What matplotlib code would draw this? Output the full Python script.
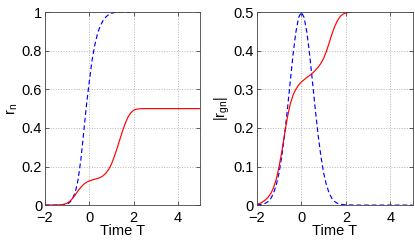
import numpy as np
import matplotlib
matplotlib.use('Agg')
import matplotlib.pyplot as plt
from matplotlib.ticker import FuncFormatter

plt.rcParams['font.family'] = ['Liberation Sans', 'DejaVu Sans']
plt.rcParams['mathtext.default'] = 'regular'

# left panel: r_n
t_left_red = [-2, -1.5, -1.25, -1.125, -1.0, -0.875, -0.75, -0.625, -0.5, -0.375,
              -0.25, -0.125, 0, 0.125, 0.25, 0.375, 0.5, 0.625, 0.75, 0.875,
              1.0, 1.125, 1.25, 1.375, 1.5, 1.625, 1.75, 1.875, 2.0, 2.125,
              2.25, 2.5, 5]
r_left_red = [0, 0.0005, 0.002, 0.005, 0.01, 0.02, 0.035, 0.054, 0.075, 0.093,
              0.108, 0.118, 0.125, 0.13, 0.134, 0.138, 0.143, 0.152, 0.165, 0.185,
              0.212, 0.25, 0.292, 0.338, 0.383, 0.424, 0.456, 0.478, 0.491, 0.497,
              0.499, 0.5, 0.5]

t_left_blue = [-2, -1.25, -1.0, -0.875, -0.75, -0.625, -0.5, -0.375, -0.25, -0.125,
               0, 0.125, 0.25, 0.375, 0.5, 0.625, 0.75, 0.875, 1.0, 1.125, 1.25, 2.0]
r_left_blue = [0, 0, 0.005, 0.015, 0.035, 0.07, 0.135, 0.24, 0.38, 0.52,
               0.64, 0.75, 0.83, 0.89, 0.93, 0.957, 0.975, 0.987, 0.994, 0.998, 1.0, 1.0]

# right panel: |r_gn|
t_right_red = [-2, -1.875, -1.75, -1.625, -1.5, -1.375, -1.25, -1.125, -1.0, -0.875,
               -0.75, -0.625, -0.5, -0.375, -0.25, -0.125, 0, 0.125, 0.25, 0.375,
               0.5, 0.625, 0.75, 0.875, 1.0, 1.125, 1.25, 1.375, 1.5, 1.625,
               1.75, 1.875, 2.0, 2.25]
r_right_red = [0.002, 0.004, 0.008, 0.013, 0.02, 0.03, 0.045, 0.068, 0.1, 0.14,
               0.185, 0.228, 0.262, 0.285, 0.3, 0.311, 0.319, 0.325, 0.331, 0.336,
               0.342, 0.349, 0.357, 0.367, 0.38, 0.398, 0.42, 0.443, 0.463, 0.478,
               0.489, 0.495, 0.498, 0.5]

t_right_blue = [-2, -1.75, -1.625, -1.5, -1.375, -1.25, -1.125, -1.0, -0.875, -0.75,
                -0.625, -0.5, -0.375, -0.25, -0.125, 0, 0.125, 0.25, 0.375, 0.5,
                0.625, 0.75, 0.875, 1.0, 1.125, 1.25, 1.375, 1.5, 1.625, 1.75,
                2.0, 2.5, 5]
r_right_blue = [0.0005, 0.002, 0.0045, 0.009, 0.017, 0.031, 0.053, 0.084, 0.128, 0.184,
                0.249, 0.320, 0.389, 0.447, 0.486, 0.5, 0.486, 0.447, 0.389, 0.320,
                0.249, 0.184, 0.128, 0.084, 0.053, 0.031, 0.017, 0.009, 0.0045, 0.002,
                0.0005, 0, 0]

xticks = [-2, 0, 2, 4]
left_yticks = [0, 0.2, 0.4, 0.6, 0.8, 1]
right_yticks = [0, 0.1, 0.2, 0.3, 0.4, 0.5]

RED = '#ff0000'
BLUE = '#0000ff'
FS = 10.5


def style_axes(ax, yticks, ylabel):
    ax.set_xlim(-2, 5)
    ax.set_ylim(yticks[0], yticks[-1])
    ax.set_xticks(xticks)
    ax.set_yticks(yticks)
    ax.yaxis.set_major_formatter(FuncFormatter(lambda v, p: '%g' % v))
    ax.xaxis.set_major_formatter(FuncFormatter(lambda v, p: ('%g' % v).replace('-', '\u2212')))
    ax.grid(True, linestyle=':', color='#b5b5b5', linewidth=0.7)
    ax.tick_params(direction='in', length=3, width=0.6, color='#444444',
                   labelsize=FS, top=True, right=True)
    ax.tick_params(axis='x', pad=4.5)
    ax.tick_params(axis='y', pad=2)
    for s in ax.spines.values():
        s.set_color('#444444')
        s.set_linewidth(0.6)
        s.set_zorder(5)
    ax.set_xlabel('Time T', fontsize=FS, labelpad=-1)
    ax.set_ylabel(ylabel, fontsize=FS, labelpad=1)


fig = plt.figure(figsize=(4.15, 2.43), dpi=100)
ax1 = fig.add_axes([0.1084, 0.156, 0.3735, 0.794])
ax2 = fig.add_axes([0.619, 0.156, 0.375, 0.794])

ax1.plot(t_left_blue, r_left_blue, color=BLUE, linestyle='--', linewidth=0.85, dashes=(4, 2.5))
ax1.plot(t_left_red, r_left_red, color=RED, linewidth=0.85)
style_axes(ax1, left_yticks, 'r$_n$')

ax2.plot(t_right_blue, r_right_blue, color=BLUE, linestyle='--', linewidth=0.85, dashes=(4, 2.5))
ax2.plot(t_right_red, r_right_red, color=RED, linewidth=0.85)
style_axes(ax2, right_yticks, '|r$_{gn}$|')

fig.savefig('out.png', dpi=100)
